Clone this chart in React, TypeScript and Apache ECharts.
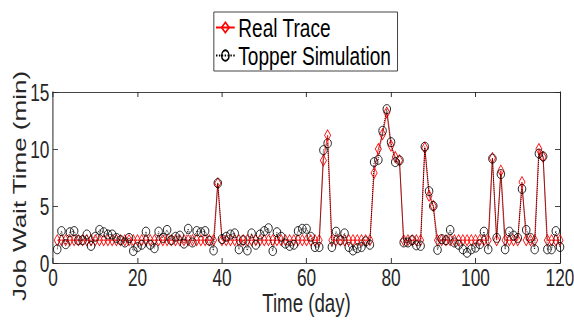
import React, { useEffect, useRef } from "react";
import * as echarts from "echarts";

// Horizontal squeeze of the original figure
const SQUEEZE = 0.72;
const VIEW_W = 574;
const VIEW_H = 320;
const INNER_W = Math.round(VIEW_W / SQUEEZE);

const SERIES_NAMES = ["Real Trace", "Topper Simulation"];
const X_TICKS = [0, 20, 40, 60, 80, 100, 120];
const Y_TICKS = [0, 5, 10, 15];

// Day 1 .. 120
const realTrace = [
  2, 2, 2, 2, 2, 2, 2, 2, 2, 2,
  2, 2, 2, 2, 2, 2, 2, 2, 2, 2,
  2, 2, 2, 2, 2, 2, 2, 2, 2, 2,
  2, 2, 2, 2, 2, 2, 2, 2, 7.0, 2,
  2, 2, 2, 2, 2, 2, 2, 2, 2, 2,
  2, 2, 2, 2, 2, 2, 2, 2, 2, 2,
  2, 2, 2, 9.0, 11.2, 2, 2, 2, 2, 2,
  2, 2, 2, 2, 2, 7.9, 10.0, 11.3, 13.2, 10.3,
  9.3, 9.0, 2, 2, 2, 2, 2, 10.1, 5.9, 5.0,
  2, 2, 2, 2, 2, 2, 2, 2, 2, 2,
  2, 2, 2, 9.2, 2, 8.1, 2, 2, 2, 2,
  7.1, 2, 2, 2, 10.0, 9.3, 2, 2, 2, 2,
];

const topperSimulation = [
  1.2, 2.8, 1.65, 2.7, 2.8, 2.0, 2.0, 2.5, 1.5, 2.3,
  2.9, 2.7, 2.5, 2.5, 2.2, 2.0, 1.8, 2.2, 1.05, 1.4,
  1.6, 2.75, 1.6, 1.3, 2.75, 2.2, 2.9, 2.0, 2.3, 2.4,
  1.7, 3.0, 1.8, 2.8, 2.7, 2.8, 1.95, 1.1, 7.0, 2.1,
  2.3, 2.5, 2.6, 1.2, 2.0, 1.1, 2.6, 1.6, 2.5, 2.8,
  3.05, 1.05, 2.7, 2.3, 1.7, 1.5, 1.6, 2.8, 3.0, 3.0,
  2.3, 1.4, 1.4, 9.9, 10.5, 1.4, 2.75, 2.0, 2.6, 1.4,
  1.1, 1.3, 1.4, 1.9, 1.6, 8.85, 9.05, 11.6, 13.5, 10.6,
  8.85, 9.0, 1.8, 1.8, 2.0, 1.55, 1.5, 10.2, 6.3, 5.0,
  1.15, 2.1, 2.0, 2.9, 1.8, 1.6, 1.2, 0.9, 1.2, 1.35,
  1.65, 2.75, 1.2, 9.15, 2.2, 7.8, 1.2, 2.75, 2.4, 2.2,
  6.5, 2.9, 2.2, 1.2, 9.6, 9.35, 1.2, 1.2, 2.8, 1.4,
];

const FONT = "'Liberation Sans', Arial, Helvetica, sans-serif";
const AXIS_COLOR = "#262626";

export default function App() {
  const ref = useRef<HTMLDivElement>(null);

  useEffect(() => {
    if (!ref.current) return;
    const chart = echarts.init(ref.current, undefined, { renderer: "svg" });

    const toPairs = (vals: number[]) => vals.map((v, i) => [i + 1, v]);

    const xBase = {
      type: "value" as const,
      min: X_TICKS[0],
      max: X_TICKS[X_TICKS.length - 1],
      interval: X_TICKS[1] - X_TICKS[0],
      splitLine: { show: false },
      axisLine: { show: true, onZero: false, lineStyle: { color: AXIS_COLOR, width: 1 } },
      axisTick: { show: true, inside: true, length: 5, lineStyle: { color: AXIS_COLOR, width: 1.3 } },
    };
    const yBase = {
      type: "value" as const,
      min: Y_TICKS[0],
      max: Y_TICKS[Y_TICKS.length - 1],
      interval: Y_TICKS[1] - Y_TICKS[0],
      splitLine: { show: false },
      axisLine: { show: true, onZero: false, lineStyle: { color: AXIS_COLOR, width: 1.4 } },
      axisTick: { show: true, inside: true, length: 7, lineStyle: { color: AXIS_COLOR, width: 1 } },
    };

    chart.setOption({
      animation: false,
      backgroundColor: "#ffffff",
      textStyle: { fontFamily: FONT },
      grid: {
        left: 73.6,
        right: INNER_W - 777.8,
        top: 92,
        bottom: VIEW_H - 263,
        containLabel: false,
        outerBoundsMode: "none",
      },
      legend: {
        data: SERIES_NAMES,
        orient: "vertical",
        left: 297,
        top: 12,
        borderColor: AXIS_COLOR,
        borderWidth: 1,
        backgroundColor: "#ffffff",
        padding: [2, 9, 2, 2],
        itemGap: 1,
        itemWidth: 26,
        itemHeight: 13,
        textStyle: { fontSize: 26.5, color: "#000", fontFamily: FONT, padding: [0, 0, 0, 0] },
      },
      xAxis: [
        {
          ...xBase,
          position: "bottom",
          name: "Time (day)",
          nameLocation: "middle",
          nameMoveOverlap: false,
          nameGap: 28,
          nameTextStyle: { fontSize: 26, lineHeight: 24, color: AXIS_COLOR, fontFamily: FONT },
          axisLabel: { show: true, margin: 4, fontSize: 24, lineHeight: 20, color: AXIS_COLOR, fontFamily: FONT },
        },
        {
          ...xBase,
          position: "top",
          axisLabel: { show: false },
        },
      ],
      yAxis: [
        {
          ...yBase,
          position: "left",
          name: "Job Wait Time (min)",
          nameLocation: "middle",
          nameMoveOverlap: false,
          nameGap: 33,
          nameTextStyle: { fontSize: 26, lineHeight: 26, color: AXIS_COLOR, fontFamily: FONT, padding: [0, 17, 0, 0] },
          axisLabel: { show: true, margin: 5, fontSize: 24, color: AXIS_COLOR, fontFamily: FONT },
        },
        {
          ...yBase,
          position: "right",
          axisLabel: { show: false },
        },
      ],
      series: [
        {
          name: SERIES_NAMES[0],
          type: "line",
          xAxisIndex: 0,
          yAxisIndex: 0,
          data: toPairs(realTrace),
          symbol: "diamond",
          symbolSize: [8.5, 11],
          showAllSymbol: true,
          lineStyle: { color: "#ff0000", width: 1, type: "solid" },
          itemStyle: { color: "rgba(255,255,255,0)", borderColor: "#ff0000", borderWidth: 1 },
          z: 2,
        },
        {
          name: SERIES_NAMES[1],
          type: "line",
          xAxisIndex: 0,
          yAxisIndex: 0,
          data: toPairs(topperSimulation),
          symbol: "circle",
          symbolSize: [10.5, 9],
          showAllSymbol: true,
          lineStyle: { color: "#000000", width: 1, type: "dotted" },
          itemStyle: { color: "rgba(255,255,255,0)", borderColor: "#000000", borderWidth: 1 },
          z: 3,
        },
      ],
    });

    return () => chart.dispose();
  }, []);

  return (
    <div
      style={{
        position: "fixed",
        left: 0,
        top: 0,
        width: VIEW_W,
        height: VIEW_H,
        overflow: "hidden",
        background: "#fff",
      }}
    >
      <div
        ref={ref}
        style={{
          width: INNER_W,
          height: VIEW_H,
          transform: `scaleX(${SQUEEZE})`,
          transformOrigin: "0 0",
        }}
      />
    </div>
  );
}
